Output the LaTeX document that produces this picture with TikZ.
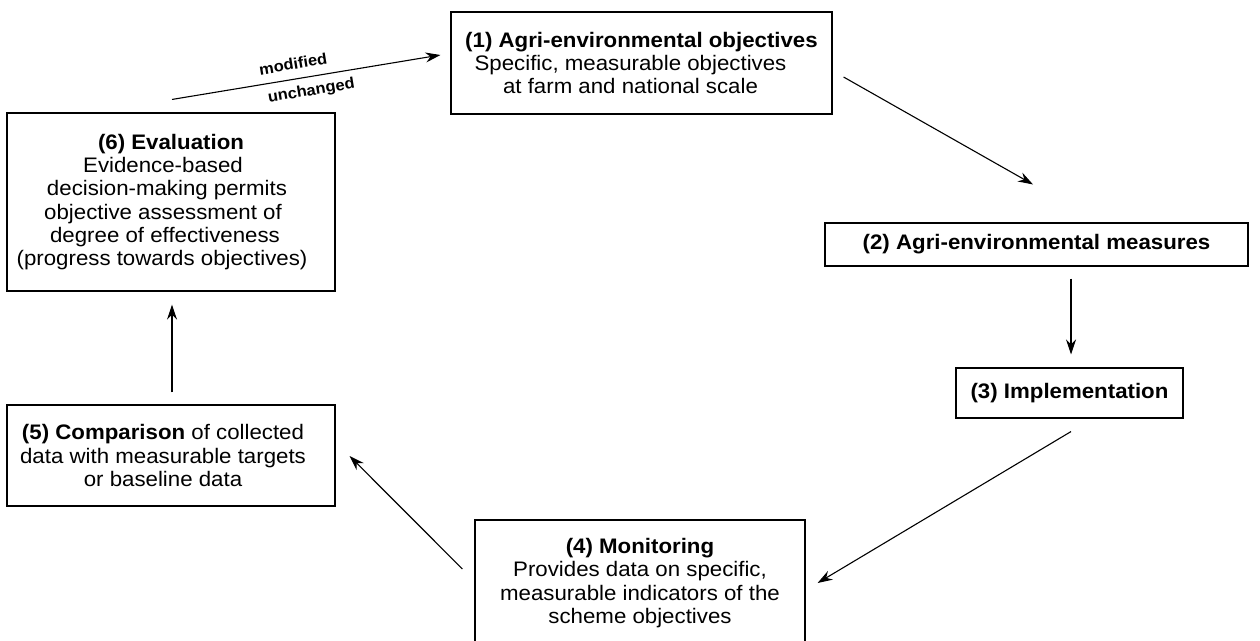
\documentclass[tikz,border=0pt]{standalone}
\usepackage{fontspec}
\setmainfont{Liberation Sans}[FakeStretch=1.06]
\usetikzlibrary{arrows.meta}
\newcommand{\padR}[1]{\rule{#1}{0pt}}
\begin{document}
\begin{tikzpicture}[x=1pt,y=-1pt,
  box/.style={draw, line width=1.1pt, rectangle, inner sep=0pt, align=center,
    font=\fontsize{21}{23.3}\selectfont},
  conn/.style={line width=1.1pt, -{Stealth[length=15pt,width=10pt,inset=5pt]}},
  lbl/.style={font=\fontsize{15.5}{18}\selectfont\bfseries, sloped, inner sep=0pt}]
\useasboundingbox (0,0) rectangle (1260,640);
\clip (0,0) rectangle (1260,640);
\fill[white] (0,0) rectangle (1260,640);

\node[box, minimum width=381pt, minimum height=102pt] (b1) at (641.5,63)
  {\textbf{(1) Agri-environmental objectives}\\
   Specific, measurable objectives\padR{22pt}\\
   at farm and national scale\padR{22pt}};
\node[box, minimum width=423pt, minimum height=43pt] (b2) at (1036.5,244.5)
  {\textbf{(2) Agri-environmental measures}};
\node[box, minimum width=227pt, minimum height=50pt] (b3) at (1069.5,393)
  {\textbf{(3) Implementation}};
\node[box, minimum width=330pt, minimum height=126pt] (b4) at (640,583)
  {\textbf{(4) Monitoring}\\
   Provides data on specific,\\
   measurable indicators of the\\
   scheme objectives};
\node[box, minimum width=328pt, minimum height=101pt] (b5) at (171,455.5)
  {\textbf{(5) Comparison} of collected\padR{16pt}\\
   data with measurable targets\padR{16pt}\\
   or baseline data\padR{16pt}};
\node[box, minimum width=328pt, minimum height=178pt] (b6) at (171,202)
  {\textbf{(6) Evaluation}\\
   Evidence-based\padR{16pt}\\
   decision-making permits\padR{8pt}\\
   objective assessment of\padR{16pt}\\
   degree of effectiveness\padR{12pt}\\
   (progress towards objectives)\padR{18pt}};

\draw[conn] ([shift={(1,-13)}]b6.north) -- ([shift={(-10,-8)}]b1.west)
  node[lbl, pos=0.46, above=9pt] {modified}
  node[lbl, pos=0.51, below=7pt] {unchanged};
\draw[conn] ([shift={(11,14)}]b1.east) -- ([shift={(-3.5,-38)}]b2.north);
\draw[conn] ([shift={(34.5,12)}]b2.south) -- ([shift={(1.5,-13)}]b3.north);
\draw[conn] ([shift={(1.5,13)}]b3.south) -- ([shift={(12,0)}]b4.east);
\draw[conn] ([shift={(-12,-14)}]b4.west) -- ([shift={(14,0.5)}]b5.east);
\draw[conn] ([shift={(1,-12)}]b5.north) -- ([shift={(1,13)}]b6.south);
\end{tikzpicture}
\end{document}
